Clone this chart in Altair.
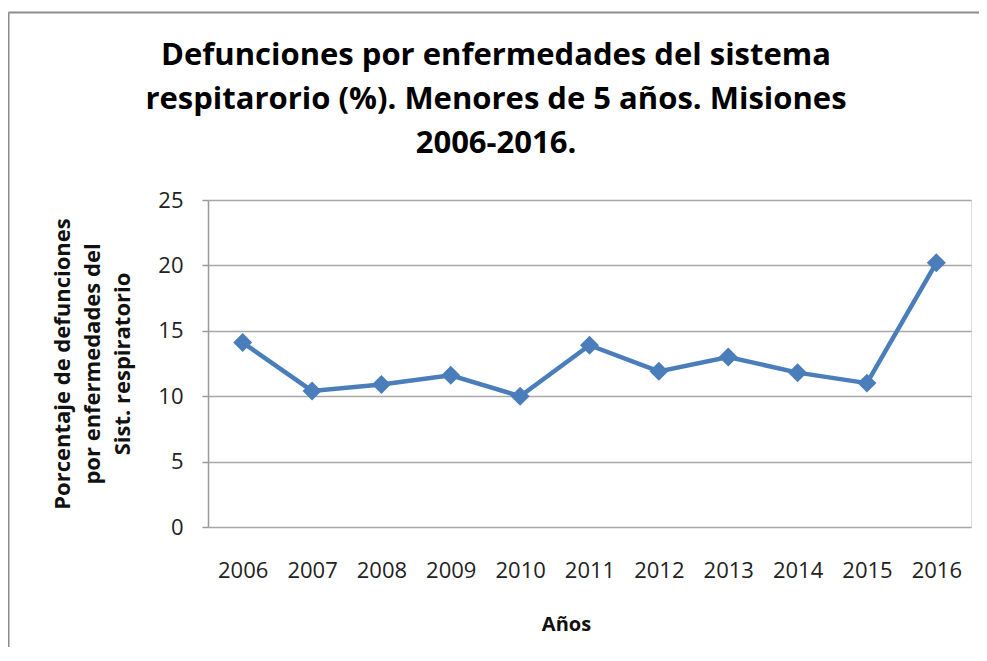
import altair as alt
import pandas as pd

years = ["2006", "2007", "2008", "2009", "2010", "2011", "2012", "2013", "2014", "2015", "2016"]
values = [14.1, 10.4, 10.9, 11.6, 10.0, 13.9, 11.9, 13.0, 11.8, 11.0, 20.2]
y_ticks = [0, 5, 10, 15, 20, 25]

title_lines = [
    "Defunciones por enfermedades del sistema",
    "respitarorio (%). Menores de 5 años. Misiones",
    "2006-2016.",
]
y_title = ["Porcentaje de defunciones", "por enfermedades del", "Sist. respiratorio"]
x_title = "Años"

df = pd.DataFrame({"Año": years, "Porcentaje": values})

W, H = 763, 327
PL, PT, PR, PB = 200, 192, 8, 120
FONT = "Open Sans"
BLUE = "#4A7EBB"
GRAY = "#9a9a9a"

x_enc = alt.X(
    "Año:O",
    sort=years,
    scale=alt.Scale(padding=0.5),
    axis=alt.Axis(
        labelAngle=0,
        ticks=False,
        domain=False,
        grid=False,
        labelFont=FONT,
        labelFontSize=22,
        labelColor="#222222",
        labelBaseline="alphabetic",
        labelPadding=50,
        title=x_title,
        titleFont=FONT,
        titleFontSize=20,
        titleFontWeight="bold",
        titleColor="#111111",
        titleX=358,
        titleY=103,
        titleAlign="center",
        titleBaseline="alphabetic",
    ),
)
y_enc = alt.Y(
    "Porcentaje:Q",
    scale=alt.Scale(domain=[0, 25], nice=False),
    axis=alt.Axis(
        values=y_ticks,
        domainColor=GRAY,
        domainWidth=1.5,
        tickColor=GRAY,
        tickWidth=1.5,
        tickSize=6,
        gridColor="#a8a8a8",
        gridWidth=1.5,
        labelFont=FONT,
        labelFontSize=22,
        labelColor="#222222",
        labelPadding=19,
        title=y_title,
        titleFont=FONT,
        titleFontSize=22,
        titleFontWeight="bold",
        titleColor="#111111",
        titleLineHeight=30,
        titleAngle=-90,
        titleX=-146,
        titleY=H / 2,
        titleAlign="center",
        titleBaseline="middle",
    ),
)

base = alt.Chart(df)
line = base.mark_line(color=BLUE, strokeWidth=4.5).encode(x=x_enc, y=y_enc)
pts = base.mark_point(shape="diamond", filled=True, size=360, color=BLUE, opacity=1).encode(
    x=x_enc, y=y_enc
)

dummy = pd.DataFrame({"a": [0]})
frame_top = alt.Chart(dummy).mark_rule(color="#8c8c8c", strokeWidth=2).encode(
    x=alt.value(-PL + 0.5), x2=alt.value(W + PR), y=alt.value(-PT + 4.5)
)
frame_left = alt.Chart(dummy).mark_rule(color="#8c8c8c", strokeWidth=2).encode(
    x=alt.value(-PL + 0.5), y=alt.value(-PT + 4.5), y2=alt.value(H + PB)
)
title_text = alt.Chart(dummy).mark_text(
    font=FONT,
    fontSize=31,
    fontWeight="bold",
    color="#000000",
    align="center",
    baseline="alphabetic",
    lineHeight=44,
).encode(text=alt.value(title_lines), x=alt.value(288), y=alt.value(-135))

chart = (
    alt.layer(frame_top, frame_left, title_text, line, pts)
    .properties(
        width=W,
        height=H,
        padding={"left": PL, "top": PT, "right": PR, "bottom": PB},
        autosize=alt.AutoSizeParams(type="none"),
    )
    .configure_view(stroke=None)
    .configure(background="white")
)

chart.save("out.html", embed_options={"renderer": "svg", "actions": False})
